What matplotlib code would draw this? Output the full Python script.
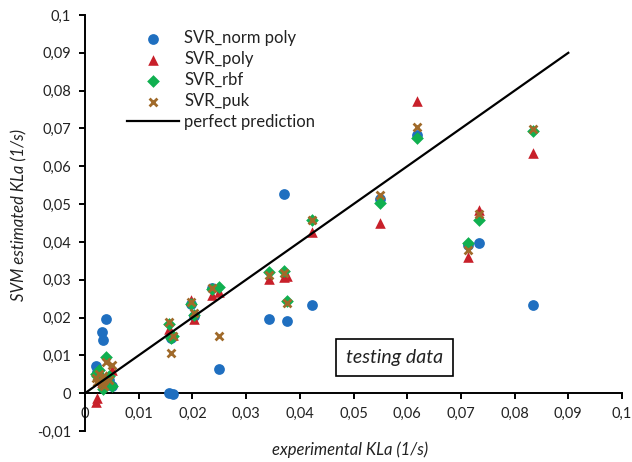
import matplotlib
matplotlib.use("Agg")
import matplotlib.pyplot as plt
from matplotlib.ticker import FixedLocator, FuncFormatter

plt.rcParams['font.family'] = ['Lato', 'DejaVu Sans']

# experimental KLa (testing data)
x_exp = [0.0020, 0.0022, 0.0027, 0.0031, 0.0033, 0.0036, 0.0040, 0.0044, 0.0050,
         0.0157, 0.0160, 0.0163,
         0.0197, 0.0203,
         0.0236, 0.0250,
         0.0343, 0.0370, 0.0376,
         0.0422, 0.0549, 0.0619, 0.0713, 0.0734, 0.0834]

svr_norm_poly = [0.0071, 0.0055, 0.0045, 0.0163, 0.0141, 0.0030, 0.0197, 0.0035, 0.0018,
                 0.0000, 0.0147, -0.0001,
                 0.0237, 0.0205,
                 0.0277, 0.0064,
                 0.0196, 0.0526, 0.0191,
                 0.0232, 0.0513, 0.0682, 0.0393, 0.0396, 0.0232]

svr_poly = [-0.0023, -0.0012, 0.0035, 0.0030, 0.0040, 0.0025, 0.0045, 0.0032, 0.0060,
            0.0170, 0.0162, 0.0155,
            0.0246, 0.0197,
            0.0260, 0.0268,
            0.0302, 0.0308, 0.0310,
            0.0427, 0.0449, 0.0772, 0.0361, 0.0485, 0.0634]

svr_rbf = [0.0050, 0.0045, 0.0062, 0.0040, 0.0010, 0.0030, 0.0096, 0.0045, 0.0018,
           0.0182, 0.0145, 0.0150,
           0.0235, 0.0206,
           0.0275, 0.0280,
           0.0320, 0.0322, 0.0245,
           0.0458, 0.0502, 0.0674, 0.0396, 0.0459, 0.0694]

svr_puk = [0.0040, 0.0030, 0.0050, 0.0025, 0.0045, 0.0020, 0.0082, 0.0035, 0.0075,
           0.0187, 0.0105, 0.0152,
           0.0240, 0.0212,
           0.0277, 0.0152,
           0.0312, 0.0318, 0.0238,
           0.0458, 0.0524, 0.0705, 0.0378, 0.0474, 0.0698]

perfect_x = [0.0, 0.09]
perfect_y = [0.0, 0.09]

x_ticks = [0, 0.01, 0.02, 0.03, 0.04, 0.05, 0.06, 0.07, 0.08, 0.09, 0.1]
y_ticks = [-0.01, 0, 0.01, 0.02, 0.03, 0.04, 0.05, 0.06, 0.07, 0.08, 0.09, 0.1]

fig = plt.figure(figsize=(6.32, 4.62), dpi=100)
ax = fig.add_axes([85/632, 1-431/462, (622-85)/632, (431-15)/462])

ax.scatter(x_exp, svr_norm_poly, s=60, marker='o', color='#1F6FC0', label='SVR_norm poly', zorder=3, linewidths=0)
ax.scatter(x_exp, svr_poly, s=58, marker='^', color='#C8202A', label='SVR_poly', zorder=3, linewidths=0)
ax.scatter(x_exp, svr_rbf, s=42, marker='D', color='#10B050', label='SVR_rbf', zorder=3, linewidths=0)
ax.scatter(x_exp, svr_puk, s=32, marker='x', color='#A06A2A', label='SVR_puk', zorder=3, linewidths=2)
ax.plot(perfect_x, perfect_y, color='black', lw=1.6, label='perfect prediction', zorder=4)

ax.set_xlim(0, 0.1)
ax.set_ylim(-0.01, 0.1)
for s in ['top', 'right']:
    ax.spines[s].set_visible(False)
ax.spines['left'].set_position(('data', 0))
ax.spines['bottom'].set_position(('data', 0))
ax.spines['left'].set_linewidth(1.4)
ax.spines['bottom'].set_linewidth(1.4)

fmt = FuncFormatter(lambda v, p: ('%g' % round(v, 4)).replace('.', ','))
ax.xaxis.set_major_locator(FixedLocator(x_ticks))
ax.yaxis.set_major_locator(FixedLocator(y_ticks))
ax.xaxis.set_major_formatter(fmt)
ax.yaxis.set_major_formatter(fmt)
ax.tick_params(axis='both', direction='out', length=4, width=1.4, labelsize=10.5, colors='black', labelcolor='#222222')
ax.tick_params(axis='x', pad=6)
ax.tick_params(axis='y', pad=6)

fig.text(350/632, 1-450/462, 'experimental KLa (1/s)', ha='center', va='center',
         fontsize=12, style='italic', color='#222222')
fig.text(19/632, 1-215/462, 'SVM estimated KLa (1/s)', ha='center', va='center',
         rotation=90, fontsize=12, style='italic', color='#222222')

ax.text(0.0576, 0.0094, 'testing data', ha='center', va='center', fontsize=14, style='italic',
        color='#222222',
        bbox=dict(boxstyle='square,pad=0.5', facecolor='white', edgecolor='black', lw=1.2))

leg = ax.legend(loc='upper left', bbox_to_anchor=(127/632, 1-30/462), bbox_transform=fig.transFigure,
                frameon=False, fontsize=12, handlelength=3.1, labelspacing=0.3,
                handletextpad=0.35, borderpad=0, borderaxespad=0)
for t in leg.get_texts():
    t.set_color('#222222')

fig.savefig('out.png', dpi=100)
